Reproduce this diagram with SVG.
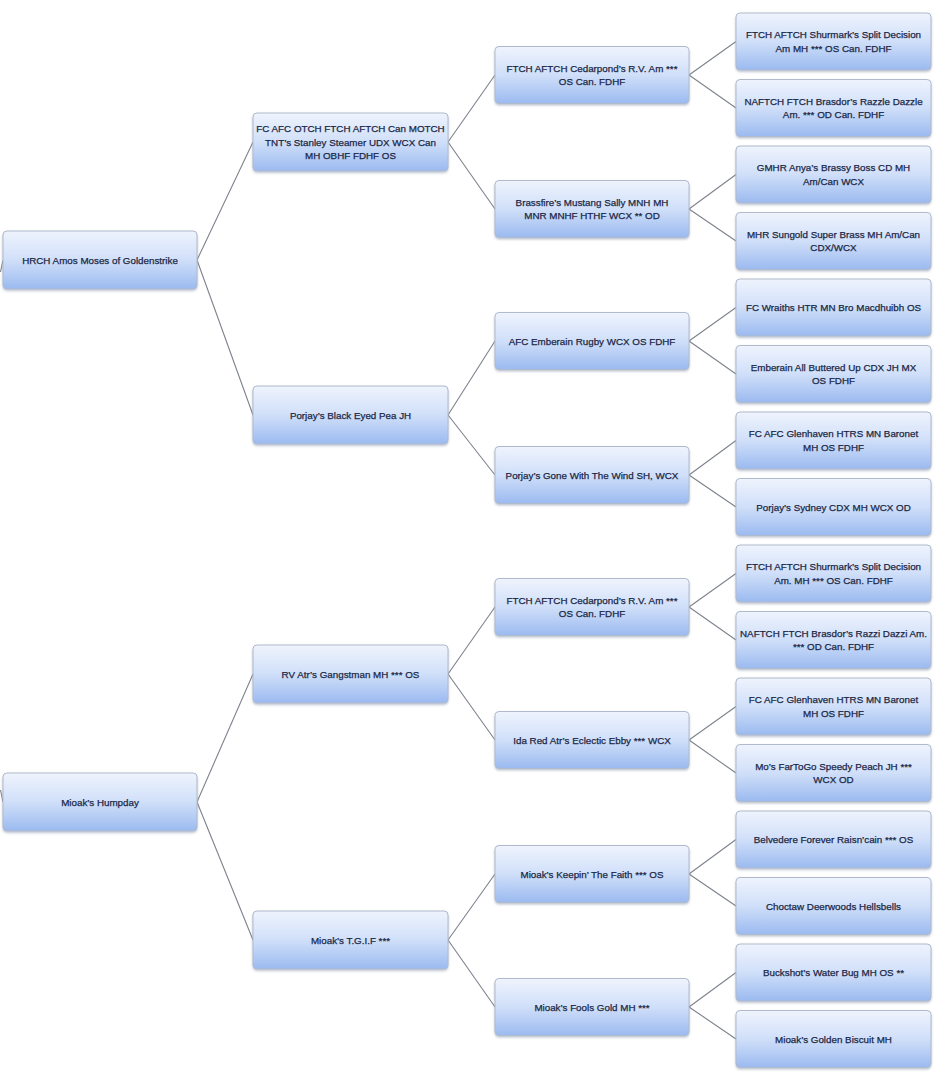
<svg xmlns="http://www.w3.org/2000/svg" width="942" height="1090" viewBox="0 0 942 1090">
<defs>
<linearGradient id="g" x1="0" y1="0" x2="0" y2="1">
<stop offset="0" stop-color="#eff4fd"/>
<stop offset="0.5" stop-color="#d0dff9"/>
<stop offset="1" stop-color="#9bbaf0"/>
</linearGradient>
<filter id="sh" x="-5%" y="-10%" width="110%" height="130%">
<feDropShadow dx="0" dy="1.5" stdDeviation="1.2" flood-color="#6a7a96" flood-opacity="0.45"/>
</filter>
<style>
.box{fill:url(#g);stroke:#b0bacd;stroke-width:1;filter:url(#sh)}
.t{font-family:"Liberation Sans",Arial,sans-serif;font-size:9.8px;fill:#1a2745;stroke:#1a2745;stroke-width:0.25;text-anchor:middle}
.c{stroke:#7d838c;stroke-width:1.1;fill:none}
</style>
</defs>
<rect width="942" height="1090" fill="#ffffff"/>
<g id="connectors">
<path class="c" d="M0.5 272 L3 260 M0.5 790 L3 802"/>
<path class="c" d="M197 260 L253 142 M197 260 L253 415 M197 802 L253 674 M197 802 L253 940"/>
<path class="c" d="M448 142 L495 75 M448 142 L495 209 M448 415 L495 341 M448 415 L495 475 M448 674 L495 607 M448 674 L495 740 M448 940 L495 874 M448 940 L495 1007"/>
<path class="c" d="M689 75 L736 41.5 M689 75 L736 108 M689 209 L736 174.5 M689 209 L736 241 M689 341 L736 307.5 M689 341 L736 374 M689 475 L736 440.5 M689 475 L736 507 M689 607 L736 573.5 M689 607 L736 640 M689 740 L736 706.5 M689 740 L736 773 M689 874 L736 839.5 M689 874 L736 906 M689 1007 L736 972.5 M689 1007 L736 1039"/>
</g>
<g id="n-hrch"><rect class="box" x="3" y="231" width="194" height="58" rx="4"/><text class="t" x="100" y="263.5">HRCH Amos Moses of Goldenstrike</text></g>
<g id="n-humpday"><rect class="box" x="3" y="773" width="194" height="58" rx="4"/><text class="t" x="100" y="805.5">Mioak’s Humpday</text></g>

<g id="n-stanley"><rect class="box" x="253" y="113" width="195" height="58" rx="4"/><text class="t" x="350.5" y="132">FC AFC OTCH FTCH AFTCH Can MOTCH</text><text class="t" x="350.5" y="145.5">TNT’s Stanley Steamer UDX WCX Can</text><text class="t" x="350.5" y="159">MH OBHF FDHF OS</text></g>
<g id="n-blackeyed"><rect class="box" x="253" y="386" width="195" height="58" rx="4"/><text class="t" x="350.5" y="418.5">Porjay’s Black Eyed Pea JH</text></g>
<g id="n-gangstman"><rect class="box" x="253" y="645" width="195" height="58" rx="4"/><text class="t" x="350.5" y="677.5">RV Atr’s Gangstman MH *** OS</text></g>
<g id="n-tgif"><rect class="box" x="253" y="911" width="195" height="58" rx="4"/><text class="t" x="350.5" y="943.5">Mioak’s T.G.I.F ***</text></g>

<g id="n-cedar1"><rect class="box" x="495" y="46.5" width="194" height="57" rx="4"/><text class="t" x="592" y="71.8">FTCH AFTCH Cedarpond’s R.V. Am ***</text><text class="t" x="592" y="85.3">OS Can. FDHF</text></g>
<g id="n-brassfire"><rect class="box" x="495" y="180.5" width="194" height="57" rx="4"/><text class="t" x="592" y="205.8">Brassfire’s Mustang Sally MNH MH</text><text class="t" x="592" y="219.3">MNR MNHF HTHF WCX ** OD</text></g>
<g id="n-rugby"><rect class="box" x="495" y="312.5" width="194" height="57" rx="4"/><text class="t" x="592" y="344.5">AFC Emberain  Rugby WCX OS FDHF</text></g>
<g id="n-gonewind"><rect class="box" x="495" y="446.5" width="194" height="57" rx="4"/><text class="t" x="592" y="478.5">Porjay’s Gone With The Wind SH, WCX</text></g>
<g id="n-cedar2"><rect class="box" x="495" y="578.5" width="194" height="57" rx="4"/><text class="t" x="592" y="603.8">FTCH AFTCH Cedarpond’s R.V. Am ***</text><text class="t" x="592" y="617.3">OS Can. FDHF</text></g>
<g id="n-idared"><rect class="box" x="495" y="711.5" width="194" height="57" rx="4"/><text class="t" x="592" y="743.5">Ida Red Atr’s Eclectic Ebby *** WCX</text></g>
<g id="n-keepin"><rect class="box" x="495" y="845.5" width="194" height="57" rx="4"/><text class="t" x="592" y="877.5">Mioak’s Keepin’ The Faith *** OS</text></g>
<g id="n-foolsgold"><rect class="box" x="495" y="978.5" width="194" height="57" rx="4"/><text class="t" x="592" y="1010.5">Mioak’s Fools Gold MH ***</text></g>

<g id="n-shurmark1"><rect class="box" x="736" y="13" width="195" height="57" rx="4"/><text class="t" x="833.5" y="38.3">FTCH AFTCH Shurmark’s Split Decision</text><text class="t" x="833.5" y="51.8">Am MH *** OS Can. FDHF</text></g>
<g id="n-razzle"><rect class="box" x="736" y="79.5" width="195" height="57" rx="4"/><text class="t" x="833.5" y="104.8">NAFTCH FTCH Brasdor’s Razzle Dazzle</text><text class="t" x="833.5" y="118.3">Am. *** OD Can. FDHF</text></g>
<g id="n-anya"><rect class="box" x="736" y="146" width="195" height="57" rx="4"/><text class="t" x="833.5" y="171.3">GMHR Anya’s Brassy Boss CD MH</text><text class="t" x="833.5" y="184.8">Am/Can WCX</text></g>
<g id="n-sungold"><rect class="box" x="736" y="212.5" width="195" height="57" rx="4"/><text class="t" x="833.5" y="237.8">MHR Sungold Super Brass MH Am/Can</text><text class="t" x="833.5" y="251.3">CDX/WCX</text></g>
<g id="n-wraiths"><rect class="box" x="736" y="279" width="195" height="57" rx="4"/><text class="t" x="833.5" y="311">FC Wraiths HTR MN Bro Macdhuibh OS</text></g>
<g id="n-buttered"><rect class="box" x="736" y="345.5" width="195" height="57" rx="4"/><text class="t" x="833.5" y="370.8">Emberain All Buttered Up CDX JH MX</text><text class="t" x="833.5" y="384.3">OS FDHF</text></g>
<g id="n-baronet1"><rect class="box" x="736" y="412" width="195" height="57" rx="4"/><text class="t" x="833.5" y="437.3">FC AFC Glenhaven HTRS MN Baronet</text><text class="t" x="833.5" y="450.8">MH OS FDHF</text></g>
<g id="n-sydney"><rect class="box" x="736" y="478.5" width="195" height="57" rx="4"/><text class="t" x="833.5" y="510.5">Porjay’s Sydney CDX MH WCX OD</text></g>
<g id="n-shurmark2"><rect class="box" x="736" y="545" width="195" height="57" rx="4"/><text class="t" x="833.5" y="570.3">FTCH AFTCH Shurmark’s Split Decision</text><text class="t" x="833.5" y="583.8">Am. MH *** OS Can. FDHF</text></g>
<g id="n-razzi"><rect class="box" x="736" y="611.5" width="195" height="57" rx="4"/><text class="t" x="833.5" y="636.8">NAFTCH FTCH Brasdor’s Razzi Dazzi Am.</text><text class="t" x="833.5" y="650.3">*** OD Can. FDHF</text></g>
<g id="n-baronet2"><rect class="box" x="736" y="678" width="195" height="57" rx="4"/><text class="t" x="833.5" y="703.3">FC AFC Glenhaven HTRS MN Baronet</text><text class="t" x="833.5" y="716.8">MH OS FDHF</text></g>
<g id="n-peach"><rect class="box" x="736" y="744.5" width="195" height="57" rx="4"/><text class="t" x="833.5" y="769.8">Mo’s FarToGo Speedy Peach JH ***</text><text class="t" x="833.5" y="783.3">WCX OD</text></g>
<g id="n-belvedere"><rect class="box" x="736" y="811" width="195" height="57" rx="4"/><text class="t" x="833.5" y="843">Belvedere Forever Raisn’cain *** OS</text></g>
<g id="n-choctaw"><rect class="box" x="736" y="877.5" width="195" height="57" rx="4"/><text class="t" x="833.5" y="909.5">Choctaw Deerwoods Hellsbells</text></g>
<g id="n-buckshot"><rect class="box" x="736" y="944" width="195" height="57" rx="4"/><text class="t" x="833.5" y="976">Buckshot’s Water Bug MH OS **</text></g>
<g id="n-biscuit"><rect class="box" x="736" y="1010.5" width="195" height="57" rx="4"/><text class="t" x="833.5" y="1042.5">Mioak’s Golden Biscuit MH</text></g>
</svg>
